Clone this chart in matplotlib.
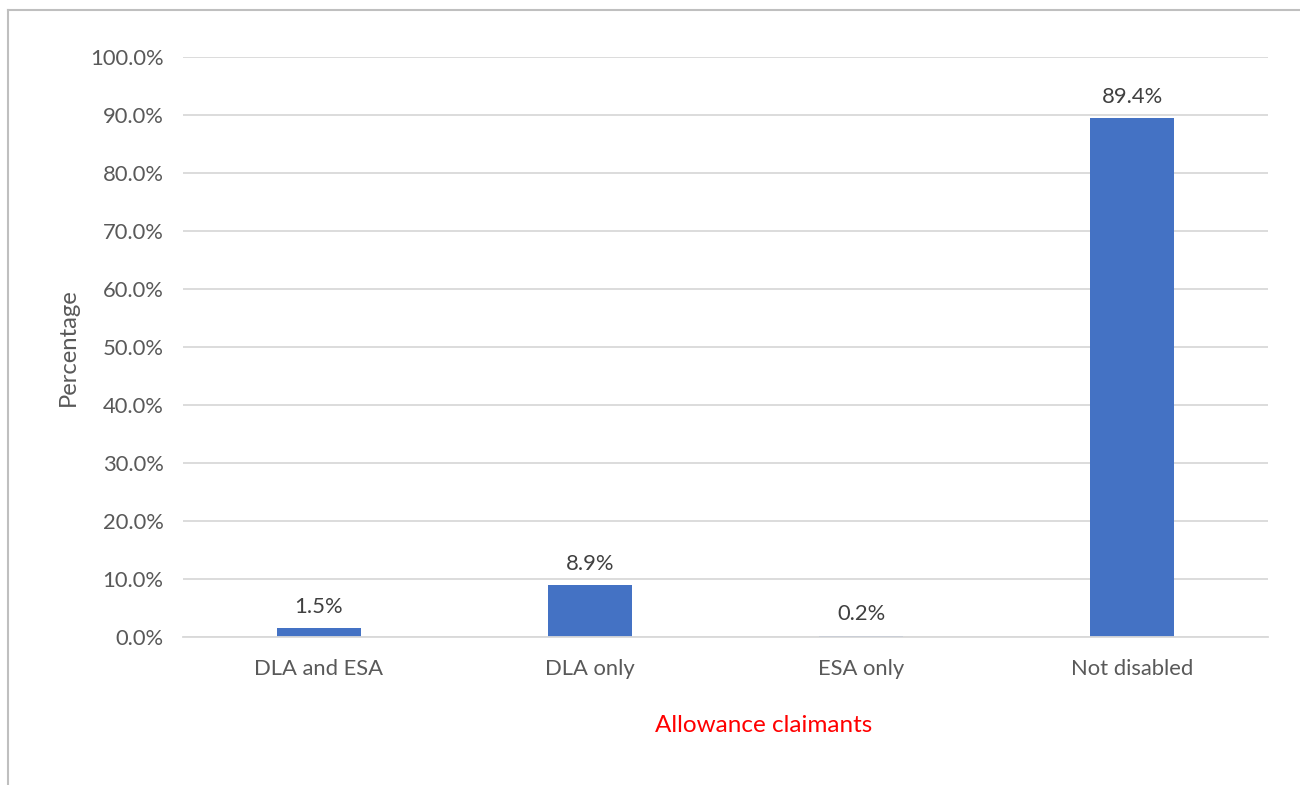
import matplotlib
matplotlib.use("Agg")
import matplotlib.pyplot as plt
from matplotlib.lines import Line2D

categories = ["DLA and ESA", "DLA only", "ESA only", "Not disabled"]
percentages = [1.5, 8.9, 0.2, 89.4]
yticks = [0, 10, 20, 30, 40, 50, 60, 70, 80, 90, 100]

plt.rcParams['font.family'] = ['Lato', 'DejaVu Sans']

text_color = "#595959"
bar_color = "#4472C4"
grid_color = "#D9D9D9"

fig = plt.figure(figsize=(13, 7.85), dpi=100)
ax = fig.add_axes([0.1408, 0.1885, 0.8346, 0.7389])

x = range(len(categories))
bars = ax.bar(x, percentages, width=0.31, color=bar_color, zorder=3)

for xi, v in zip(x, percentages):
    ax.text(xi, v + 2.0, f"{v:.1f}%", ha="center", va="bottom",
            fontsize=15.8, color="#404040")

ax.set_xlim(-0.5, len(categories) - 0.5)
ax.set_ylim(0, 100)
ax.set_yticks(yticks)
ax.set_yticklabels([f"{t:.1f}%" for t in yticks], fontsize=15.8, color=text_color)
ax.set_xticks(list(x))
ax.set_xticklabels(categories, fontsize=15.8, color=text_color)
ax.tick_params(axis="both", length=0)
ax.tick_params(axis="y", pad=14)
ax.tick_params(axis="x", pad=16)

ax.grid(axis="y", color=grid_color, linewidth=1.3, zorder=0)
for s in ["top", "right", "left"]:
    ax.spines[s].set_visible(False)
ax.spines["bottom"].set_color(grid_color)
ax.spines["bottom"].set_linewidth(1.3)
ax.spines["bottom"].set_zorder(4)

ax.set_ylabel("Percentage", fontsize=17.2, color=text_color, labelpad=8)
ax.set_xlabel("Allowance claimants", fontsize=17.5, color="#FF0000", labelpad=25)
ax.xaxis.set_label_coords(0.535, -0.135)

# Outer chart border (left and top edges)
fig.add_artist(Line2D([0.0065, 0.0065], [0.0, 0.9875], transform=fig.transFigure,
                      color="#BFBFBF", linewidth=1.5))
fig.add_artist(Line2D([0.0065, 1.0], [0.9875, 0.9875], transform=fig.transFigure,
                      color="#BFBFBF", linewidth=1.5))

fig.savefig("out.png", dpi=100, facecolor="white")
